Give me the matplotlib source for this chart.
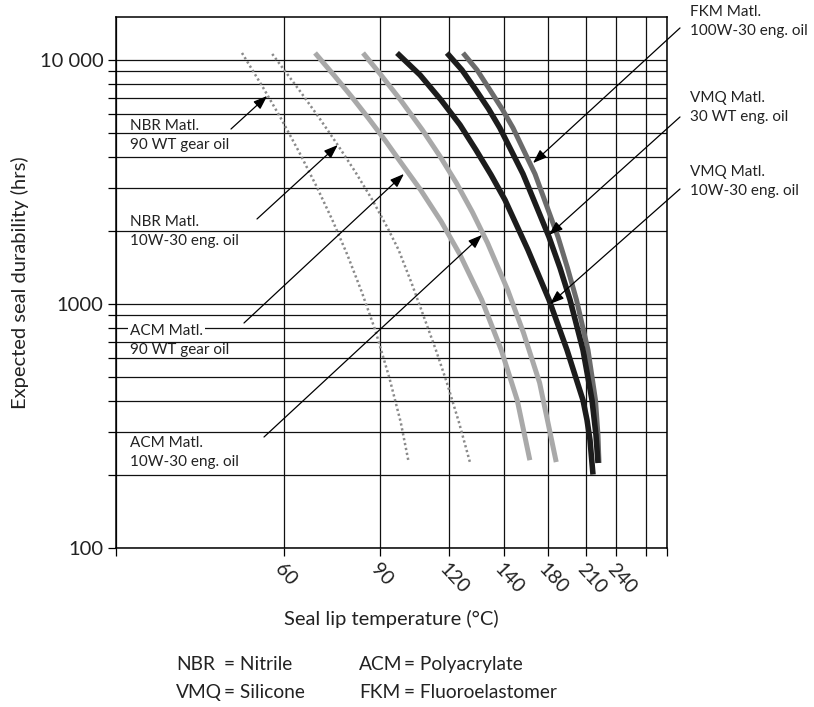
import numpy as np
import matplotlib
matplotlib.use("Agg")
import matplotlib.pyplot as plt
from matplotlib.ticker import FixedLocator, NullFormatter, NullLocator

plt.rcParams["font.family"] = ["Lato", "DejaVu Sans"]

# x axis: non-linear temperature scale, grid temperatures and where they sit
grid_temps = [30, 60, 90, 120, 140, 180, 210, 240, 270, 300]
grid_pos = [0, 168, 264, 333, 388, 432, 470, 500, 530, 551]
xtick_labels = ["", "60", "90", "120", "140", "180", "210", "240", "", ""]

# durability curves (temperature in degC, hours)
nbr_90wt_t = [52.5, 56.3, 59.4, 64.7, 70.1, 75.1, 79.8, 84.3, 88.5, 94.1, 99.0, 102.3]
nbr_90wt_h = [10680, 7680, 5790, 4200, 3045, 2210, 1590, 1120, 782, 497, 328, 229]

nbr_10w30_t = [57.9, 65.2, 71.0, 76.8, 82.3, 87.6, 93.3, 98.1, 103.7, 109.1, 114.3, 119.1, 123.6, 127.6]
nbr_10w30_h = [10580, 7390, 5790, 4480, 3475, 2670, 2050, 1665, 1220, 884, 648, 475, 328, 225]

acm_90wt_t = [69.7, 75.8, 81.2, 86.3, 92.4, 98.3, 107.7, 116.7, 123.9, 131.9, 139.0, 152.0, 163.5]
acm_90wt_h = [10680, 8600, 7050, 5790, 4660, 3890, 2930, 2170, 1600, 1040, 648, 404, 229]

acm_10w30_t = [84.7, 90.1, 98.9, 108.4, 116.0, 122.7, 128.5, 134.0, 143.4, 157.8, 172.4, 186.5]
acm_10w30_h = [10680, 8760, 6860, 5170, 4040, 3130, 2380, 1780, 1140, 760, 475, 225]

vmq_10w30_t = [97.4, 107.4, 116.5, 124.0, 129.8, 135.3, 140.9, 161.8, 180.8, 195.0, 207.6, 211.0, 214.0, 217.0]
vmq_10w30_h = [10680, 8680, 6860, 5420, 4280, 3380, 2670, 1665, 1040, 648, 404, 335, 277, 200]

vmq_30wt_t = [119.1, 124.7, 129.8, 134.4, 138.5, 146.8, 157.3, 172.7, 180.8, 189.5, 197.4, 207.6, 216.0, 220.0, 222.0]
vmq_30wt_h = [10680, 9100, 7530, 6300, 5265, 4236, 3410, 2316, 1882, 1404, 1040, 648, 404, 290, 223]

fkm_t = [125.1, 130.2, 134.9, 139.3, 148.2, 158.2, 168.2, 181.6, 187.9, 195.4, 202.5, 212.0, 219.5, 222.0, 223.0]
fkm_h = [10680, 9100, 7530, 6300, 5265, 4236, 3410, 2316, 1882, 1404, 1040, 648, 404, 290, 223]

# callouts: label lines, arrow tip (degC, hrs)
callouts = [
    (["NBR Matl.", "90 WT gear oil"], 57.0, 7120),
    (["NBR Matl.", "10W-30 eng. oil"], 76.8, 4480),
    (["ACM Matl.", "90 WT gear oil"], 100.4, 3410),
    (["ACM Matl.", "10W-30 eng. oil"], 132.0, 1918),
    (["FKM Matl.", "100W-30 eng. oil"], 166.4, 3780),
    (["VMQ Matl.", "30 WT eng. oil"], 180.8, 1918),
    (["VMQ Matl.", "10W-30 eng. oil"], 181.6, 1000),
]
# where each callout text / leader line starts (axes fraction)
callout_text_xy = [(0.0254, 0.7947), (0.0254, 0.614), (0.0254, 0.4087), (0.0254, 0.1977),
                   (1.0417, 1.0094), (1.0417, 0.8475), (1.0417, 0.7081)]
callout_line_xy = [(0.2087, 0.789), (0.2559, 0.6196), (0.2323, 0.4237), (0.2686, 0.209),
                   (1.0236, 0.9793), (1.0236, 0.8117), (1.0236, 0.6761)]

abbrevs = ["NBR", "VMQ", "ACM", "FKM"]
abbrev_names = ["Nitrile", "Silicone", "Polyacrylate", "Fluoroelastomer"]


def fwd(t):
    return np.interp(t, grid_temps, grid_pos)


def inv(p):
    return np.interp(p, grid_pos, grid_temps)


fig = plt.figure(figsize=(8.14, 7.07), dpi=100)
ax = fig.add_axes([0.1425, 0.2249, 0.6769, 0.7511])
ax.set_xscale("function", functions=(fwd, inv))
ax.set_yscale("log")
ax.set_xlim(30, 300)
ax.set_ylim(100, 15000)

ax.xaxis.set_major_locator(FixedLocator(grid_temps))
ax.xaxis.set_minor_locator(NullLocator())
ax.set_xticklabels(xtick_labels)
for lab in ax.get_xticklabels():
    lab.set_rotation(-47)
    lab.set_ha("left")
    lab.set_va("top")
    lab.set_rotation_mode("anchor")

ax.yaxis.set_major_locator(FixedLocator([100, 1000, 10000]))
ax.yaxis.set_minor_locator(FixedLocator(list(range(200, 1000, 100)) + list(range(2000, 10000, 1000))))
ax.yaxis.set_minor_formatter(NullFormatter())
ax.set_yticklabels(["100", "1000", "10 000"])

ax.tick_params(which="both", direction="out", length=6, width=0.9, color="black",
               labelcolor="#222", pad=3)
ax.tick_params(axis="y", labelsize=14.5)
ax.tick_params(axis="x", labelsize=14)
ax.grid(which="both", color="#111", lw=0.9)
ax.set_axisbelow(True)
for s in ax.spines.values():
    s.set_linewidth(1.1)

ax.set_xlabel("Seal lip temperature (°C)", fontsize=14.5, color="#222")
ax.xaxis.set_label_coords(0.5, -0.116)
ax.set_ylabel("Expected seal durability (hrs)", fontsize=14.5, color="#222")
ax.yaxis.set_label_coords(-0.158, 0.5)

dots = dict(color="#8a8a8a", lw=1.8, linestyle=(0, (0.9, 1.1)))
thick = dict(solid_capstyle="butt", solid_joinstyle="round")
ax.plot(nbr_90wt_t, nbr_90wt_h, **dots)
ax.plot(nbr_10w30_t, nbr_10w30_h, **dots)
ax.plot(acm_90wt_t, acm_90wt_h, color="#a9a9a9", lw=3.6, **thick)
ax.plot(acm_10w30_t, acm_10w30_h, color="#a9a9a9", lw=3.6, **thick)
ax.plot(fkm_t, fkm_h, color="#6b6b6b", lw=3.6, **thick)
ax.plot(vmq_10w30_t, vmq_10w30_h, color="#1c1c1c", lw=4.0, **thick)
ax.plot(vmq_30wt_t, vmq_30wt_h, color="#1c1c1c", lw=4.0, **thick)

for i, (lines, tip_t, tip_h) in enumerate(callouts):
    tx, ty = callout_text_xy[i]
    for j, line in enumerate(lines):
        t = ax.text(tx, ty - j * 0.0358, line, transform=ax.transAxes, fontsize=11,
                    va="center", ha="left", color="#222", clip_on=False)
        if i == 2 and j == 0:
            t.set_bbox(dict(fc="white", ec="none", pad=1.5))
    ax.annotate("", xy=(tip_t, tip_h), xycoords="data",
                xytext=callout_line_xy[i], textcoords="axes fraction",
                annotation_clip=False,
                arrowprops=dict(arrowstyle="-|>,head_length=0.6,head_width=0.22",
                                color="black", lw=0.9, shrinkA=0, shrinkB=0,
                                mutation_scale=14))

# abbreviation key below the chart
key_x = [0.216, 0.441]
eq_x = [0.275, 0.496]
for k, (ab, name) in enumerate(zip(abbrevs, abbrev_names)):
    col, row = divmod(k, 2)
    y0 = 0.0608 - row * 0.0396
    fig.text(key_x[col], y0, ab, fontsize=13.8, va="center", ha="left", color="#222")
    fig.text(eq_x[col], y0, "= " + name, fontsize=13.8, va="center", ha="left", color="#222")

fig.savefig("out.png", dpi=100, facecolor="white")
